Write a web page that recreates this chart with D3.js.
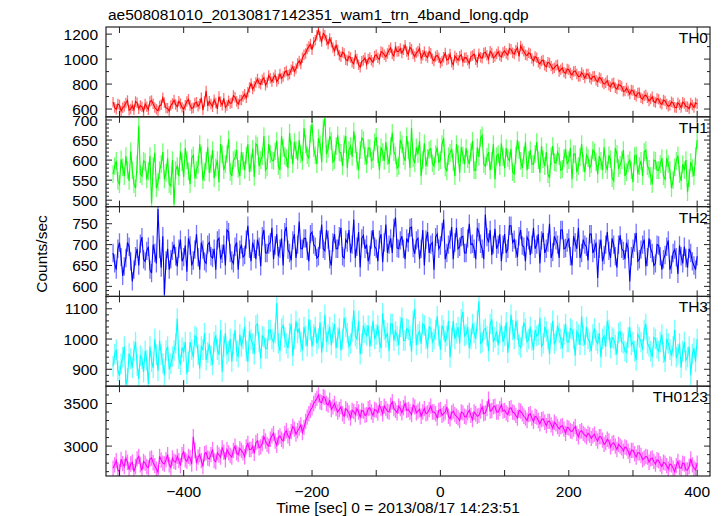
<!DOCTYPE html>
<html>
<head>
<meta charset="utf-8">
<script src="https://cdn.jsdelivr.net/npm/d3@7"></script>
<style>
  body { margin: 0; background: #fff; }
  svg text { font-family: "Liberation Sans", Arial, Helvetica, sans-serif; fill: #000; }
</style>
</head>
<body>
<svg id="chart" width="723" height="516"></svg>
<script>
// ---------- DATA ----------
const title = "ae508081010_20130817142351_wam1_trn_4band_long.qdp";
const xLabel = "Time [sec] 0 = 2013/08/17 14:23:51";
const yLabel = "Counts/sec";
const bandNames = ["TH0", "TH1", "TH2", "TH3", "TH0123"];
const bandColors = ["#ff0000", "#00ff00", "#0000ff", "#00ffff", "#ff00ff"];
// two interleaved sets of bins: set A starts at -510 s, set B at -507.5 s, both every 5 s
const timeStartA = -510, timeStartB = -507.5, timeStep = 5;
const xTicksLabeled = [-400, -200, 0, 200, 400];

const th0 = [
 655,598,632,610,648,590,627,661,603,618,
 640,595,668,612,587,634,650,606,629,672,
 618,645,597,660,628,611,655,640,592,745,
 662,619,648,700,631,612,667,650,695,640,
 672,718,735,805,782,840,798,851,812,846,
 850,820,880,860,905,880,940,925,985,1010,
 1045,1100,1075,1150,1235,1140,1190,1120,1135,1065,
 1072,1018,1045,988,1012,962,1000,935,990,958,
 1012,975,1035,998,1052,1018,1073,1040,1095,1062,
 1048,1110,1035,1078,1020,1062,1005,1058,1012,1046,
 985,1030,968,1015,992,1040,955,1008,1022,980,
 1012,965,1028,995,1042,1006,1055,1000,1048,1020,
 1060,1018,1065,1032,1078,1040,1092,1105,1062,1028,
 1042,985,1010,960,992,938,968,920,948,900,
 928,885,915,872,905,860,892,848,880,838,
 862,818,845,800,828,778,810,760,790,742,
 768,720,748,702,730,680,712,665,698,652,
 678,638,665,622,658,615,650,612,645,618,
 648,612,640];
const th0B = [
 612,640,585,622,668,601,594,650,628,580,
 618,660,642,598,625,690,608,582,645,636,
 662,615,630,678,605,648,622,690,660,625,
 640,675,602,658,686,628,645,708,660,672,
 700,690,772,760,812,808,835,790,868,820,
 872,840,845,895,870,915,902,965,960,1035,
 1080,1120,1135,1190,1180,1205,1150,1165,1092,1110,
 1030,1055,995,1022,975,1030,955,982,1010,1000,
 990,1025,1010,1060,1035,1045,1090,1025,1060,1085,
 1075,1060,1095,1040,1050,1085,1030,1025,1060,1000,
 1020,1010,985,1048,1000,975,1025,990,1035,1010,
 990,1020,1040,975,1015,1048,1030,1062,1010,1040,
 1028,1052,1045,1085,1050,1070,1022,1080,1035,1050,
 1005,1020,975,985,950,975,945,930,955,915,
 895,920,888,900,880,862,875,880,852,860,
 830,852,815,810,790,805,770,795,780,745,
 745,752,715,728,690,705,690,680,660,685,
 648,672,640,630,648,610,635,655,620,602,
 632,650];
const th1 = [
 565,598,540,582,610,548,575,530,685,560,
 595,572,492,618,545,590,552,605,535,490,
 585,622,558,600,540,612,575,640,550,598,
 568,625,582,545,615,590,652,560,605,578,
 620,575,640,592,558,635,600,660,582,615,
 598,648,575,630,605,668,590,625,650,598,
 640,605,690,612,655,595,705,628,648,600,
 662,618,640,580,635,672,598,625,650,590,
 630,602,658,575,620,645,590,668,612,585,
 640,598,625,680,592,615,560,642,605,628,
 585,632,600,655,572,618,595,640,568,612,
 630,590,648,575,608,662,585,620,598,552,
 615,642,580,605,628,565,650,598,612,575,
 625,590,645,568,602,620,555,635,592,610,
 578,628,600,552,615,585,640,570,605,590,
 620,565,598,632,575,602,548,615,588,625,
 570,600,545,612,585,560,625,578,540,598,
 575,605,552,590,530,582,612,548,575,520,
 595,560,650];
const th1B = [
 585,548,602,560,575,622,540,590,565,598,
 552,610,585,530,575,620,568,540,600,575,
 560,595,630,572,605,555,588,612,570,632,
 590,555,600,640,575,615,570,600,625,560,
 598,612,570,628,640,585,610,575,640,600,
 622,585,660,610,580,625,645,600,615,680,
 612,665,630,590,640,680,615,660,595,635,
 620,585,660,625,608,640,575,655,610,630,
 598,645,615,632,598,610,635,620,580,650,
 610,660,580,605,632,648,600,585,625,592,
 615,595,640,582,610,628,560,615,632,590,
 602,620,575,632,655,590,608,575,640,610,
 585,608,630,598,570,612,625,580,645,600,
 590,615,600,635,585,565,610,595,620,575,
 605,590,630,615,570,608,592,612,580,625,
 595,610,575,590,612,555,630,580,600,560,
 592,575,610,565,598,620,585,560,600,575,
 590,560,605,575,550,598,565,590,600,555,
 580,610];
const th2 = [
 680,640,705,625,668,695,612,672,650,718,
 660,695,632,680,785,645,580,690,665,700,
 648,712,670,635,698,662,725,640,688,655,
 705,668,640,715,678,650,730,662,695,640,
 700,675,745,660,690,712,648,735,680,705,
 665,725,690,650,742,680,710,668,755,690,
 715,660,730,695,672,748,685,712,650,725,
 690,740,668,705,680,760,695,645,722,700,
 675,735,690,712,658,748,700,680,765,690,
 720,665,705,742,678,715,690,650,730,700,
 640,725,698,760,680,712,665,740,695,720,
 680,750,702,665,730,690,772,705,675,738,
 700,660,725,690,745,712,670,735,695,718,
 675,740,700,655,728,690,750,682,710,668,
 735,692,715,650,705,740,680,700,662,725,
 690,620,712,675,730,668,700,645,722,685,
 705,612,690,728,665,700,648,715,680,655,
 698,640,675,710,652,688,630,672,695,645,
 680,650,672];
const th2B = [
 655,690,670,648,705,660,640,690,702,665,
 685,640,700,655,690,720,662,640,685,672,
 690,660,698,715,650,688,670,705,660,700,
 672,690,710,665,700,735,680,655,705,688,
 670,712,690,705,665,695,720,680,700,740,
 698,672,715,730,688,662,725,700,690,715,
 685,725,700,668,712,690,735,665,705,690,
 720,672,712,735,700,668,730,715,690,660,
 712,695,660,725,705,680,715,740,692,710,
 690,715,740,692,710,665,735,712,680,705,
 718,690,730,665,700,742,705,690,718,680,
 715,700,690,740,702,665,718,735,700,690,
 725,700,680,745,705,690,720,698,660,710,
 700,690,725,710,680,705,668,720,700,735,
 690,705,672,720,690,668,712,695,725,680,
 705,690,660,700,685,715,672,700,690,665,
 690,672,705,660,688,712,670,690,650,700,
 672,665,695,640,680,670,698,655,668,690,
 660,640];
const th3 = [
 910,965,878,940,850,952,905,990,868,935,
 960,852,925,1000,895,948,880,975,918,962,
 1068,915,958,885,990,940,1005,902,965,930,
 985,915,1012,948,892,1020,960,925,1030,940,
 975,1040,925,998,950,1050,935,1005,968,1030,
 990,1118,960,1045,985,1020,945,1060,1035,962,
 1010,1065,975,1040,1002,955,1080,1015,980,1050,
 1005,962,1070,1020,985,1095,1000,950,1045,1012,
 975,1060,1015,990,1085,1005,960,1050,1025,980,
 1070,995,1030,958,1100,1015,985,1045,970,1035,
 1000,1075,965,1030,1010,940,1060,1020,985,1090,
 1015,970,1050,1000,1125,990,1035,960,1065,1005,
 980,1045,1010,955,1080,1000,1030,972,1055,990,
 1040,965,1010,1070,985,1025,950,1060,995,1020,
 970,1050,990,1030,945,1015,1075,980,1000,960,
 1035,985,940,1010,1060,970,1000,948,1025,985,
 955,1040,990,930,1005,965,1050,975,940,1000,
 960,1015,925,985,945,1030,950,905,990,940,
 880,970,1000];
const th3B = [
 950,895,918,975,870,935,960,912,945,890,
 930,975,905,948,995,920,962,900,942,985,
 935,972,990,925,965,1010,948,975,1020,955,
 945,990,965,1030,975,950,1000,985,960,1015,
 1000,960,1025,985,1045,990,1010,970,1030,1000,
 1020,985,1035,1005,970,1050,1000,1020,990,1040,
 975,1030,1015,985,1055,1005,990,1040,1020,970,
 1035,1000,1040,975,1025,1010,1060,985,1020,1045,
 1010,1000,1045,970,1030,1020,1050,995,1010,1040,
 995,1035,1010,1060,980,1025,1050,1000,1040,990,
 1030,1010,1045,990,1060,1005,1000,1040,1065,1010,
 1040,1000,1020,1060,985,1030,1010,1050,990,1025,
 1020,990,1055,1005,1030,1060,980,1010,1035,1000,
 995,1030,1015,975,1040,1000,1020,985,1045,1000,
 1015,990,1035,1000,1025,980,1010,1040,990,1015,
 995,1020,1000,975,1030,1005,980,1020,990,960,
 1005,980,960,1015,990,1030,985,960,1005,970,
 990,955,1000,965,975,940,985,960,930,975,
 950,925];
const th0123 = [
 2740,2830,2700,2795,2860,2725,2810,2760,2880,2715,
 2800,2745,2860,2770,2690,2835,2790,2900,2750,2820,
 2880,2770,2935,2820,2860,3110,2800,2900,2760,2925,
 2850,2960,2815,2895,2980,2840,2920,2870,3000,2900,
 2950,2875,3030,2960,2915,3060,2990,3110,3020,3080,
 3150,3010,3120,3060,3180,3090,3230,3140,3210,3160,
 3290,3380,3450,3530,3600,3510,3570,3480,3430,3500,
 3400,3460,3350,3420,3330,3405,3440,3340,3410,3370,
 3450,3360,3420,3480,3380,3440,3400,3520,3420,3470,
 3390,3500,3430,3370,3460,3410,3350,3440,3390,3470,
 3400,3330,3430,3380,3460,3320,3410,3350,3300,3390,
 3340,3420,3310,3380,3360,3460,3390,3550,3420,3470,
 3400,3480,3420,3370,3450,3390,3330,3410,3350,3300,
 3380,3290,3340,3260,3320,3240,3290,3210,3260,3200,
 3240,3150,3210,3170,3230,3110,3180,3130,3150,3090,
 3140,3060,3110,3020,3080,2990,3040,2960,3000,2940,
 2980,2890,2950,2870,2920,2840,2880,2810,2860,2790,
 2830,2760,2800,2730,2780,2700,2820,2740,2790,2720,
 2850,2740,2800];
const th0123B = [
 2780,2720,2845,2760,2810,2790,2700,2850,2780,2820,
 2760,2850,2805,2730,2880,2800,2840,2780,2860,2810,
 2830,2900,2840,2880,2790,2950,2870,2830,2910,2860,
 2900,2830,2920,2870,2930,2960,2890,2950,2920,2970,
 2920,2990,2960,3000,3040,2980,3030,3060,3000,3120,
 3060,3100,3080,3150,3120,3170,3200,3180,3250,3220,
 3340,3420,3500,3560,3520,3580,3500,3540,3460,3440,
 3430,3380,3440,3390,3420,3370,3400,3420,3360,3440,
 3400,3430,3390,3440,3470,3410,3480,3440,3390,3440,
 3450,3420,3400,3480,3390,3430,3400,3380,3430,3400,
 3380,3420,3360,3400,3350,3390,3370,3330,3400,3350,
 3390,3360,3400,3350,3410,3380,3440,3410,3460,3400,
 3440,3410,3390,3440,3400,3360,3420,3380,3330,3370,
 3330,3350,3300,3310,3280,3290,3250,3280,3230,3230,
 3200,3220,3180,3200,3150,3170,3150,3110,3130,3120,
 3090,3110,3070,3040,3060,3030,3000,3020,2980,2990,
 2940,2950,2910,2920,2890,2860,2870,2850,2820,2840,
 2790,2810,2770,2790,2740,2770,2750,2800,2720,2760,
 2780,2720];
const errors = [42, 22, 22, 34, 90];            // 1-sigma error per band
const yDomains = [[538, 1257], [484, 708], [576, 791], [844, 1141], [2649, 3703]];
const yMajor = [200, 50, 50, 100, 500];
const yMinor = [100, 10, 10, 20, 100];
const seriesA = [th0, th1, th2, th3, th0123];
const seriesB = [th0B, th1B, th2B, th3B, th0123B];

// ---------- LAYOUT ----------
const plotL = 106, plotR = 710, plotT = 27, plotB = 476;
const nP = 5, pH = (plotB - plotT) / nP;
const svg = d3.select("#chart");

const x = d3.scaleLinear().domain([-521, 420]).range([plotL, plotR]);
const xTicksAll = d3.range(-500, 401, 100);

seriesA.forEach((valsA, p) => {
  const y0 = plotT + p * pH, y1 = y0 + pH;
  const y = d3.scaleLinear().domain(yDomains[p]).range([y1, y0]);
  const g = svg.append("g");
  const clipId = "clip" + p;
  g.append("clipPath").attr("id", clipId).append("rect")
    .attr("x", plotL).attr("y", y0).attr("width", plotR - plotL).attr("height", pH);
  const data = valsA.map((v, i) => ({ t: timeStartA + i * timeStep, v }))
    .concat(seriesB[p].map((v, i) => ({ t: timeStartB + i * timeStep, v })))
    .sort((a, b) => a.t - b.t);
  const dg = g.append("g").attr("clip-path", `url(#${clipId})`);
  const col = bandColors[p];
  dg.selectAll("line.err").data(data).join("line")
    .attr("x1", d => x(d.t)).attr("x2", d => x(d.t))
    .attr("y1", d => y(d.v - errors[p])).attr("y2", d => y(d.v + errors[p]))
    .attr("stroke", col).attr("stroke-opacity", 0.55).attr("stroke-width", 1.3);
  dg.append("path").datum(data)
    .attr("d", d3.line().x(d => x(d.t)).y(d => y(d.v)))
    .attr("fill", "none").attr("stroke", col).attr("stroke-width", 1.1);

  g.append("rect").attr("x", plotL).attr("y", y0).attr("width", plotR - plotL).attr("height", pH)
    .attr("fill", "none").attr("stroke", "#222").attr("stroke-width", 1.2);

  const [d0, d1] = yDomains[p];
  const minorT = d3.range(Math.ceil(d0 / yMinor[p]) * yMinor[p], d1, yMinor[p]);
  const majorT = d3.range(Math.ceil(d0 / yMajor[p]) * yMajor[p], d1, yMajor[p]);
  minorT.forEach(v => {
    const isMajor = majorT.includes(v);
    const L = isMajor ? 6 : 3;
    [[plotL, plotL + L], [plotR, plotR - L]].forEach(([a, b]) => {
      g.append("line").attr("x1", a).attr("x2", b).attr("y1", y(v)).attr("y2", y(v))
        .attr("stroke", "#222").attr("stroke-width", 1);
    });
  });
  majorT.forEach(v => {
    g.append("text").attr("x", 98).attr("y", y(v)).attr("dy", "0.36em")
      .attr("text-anchor", "end").attr("font-size", 15.5).text(v);
  });
  xTicksAll.forEach(t => {
    [[y0, y0 + 6], [y1, y1 - 6]].forEach(([a, b]) => {
      g.append("line").attr("x1", x(t)).attr("x2", x(t)).attr("y1", a).attr("y2", b)
        .attr("stroke", "#222").attr("stroke-width", 1);
    });
  });
  g.append("text").attr("x", 708).attr("y", y0 + 16).attr("text-anchor", "end")
    .attr("font-size", 15.5).text(bandNames[p]);
});

xTicksLabeled.forEach(t => {
  svg.append("text").attr("x", x(t)).attr("y", 497).attr("text-anchor", "middle")
    .attr("font-size", 15.5).text(t < 0 ? "\u2212" + Math.abs(t) : t);
});
svg.append("text").attr("x", 398).attr("y", 513).attr("text-anchor", "middle")
  .attr("font-size", 15.5).text(xLabel);
svg.append("text").attr("transform", "translate(47,254) rotate(-90)")
  .attr("text-anchor", "middle").attr("font-size", 15.5).text(yLabel);
svg.append("text").attr("x", 108).attr("y", 20).attr("font-size", 15.5).text(title);
</script>
</body>
</html>
